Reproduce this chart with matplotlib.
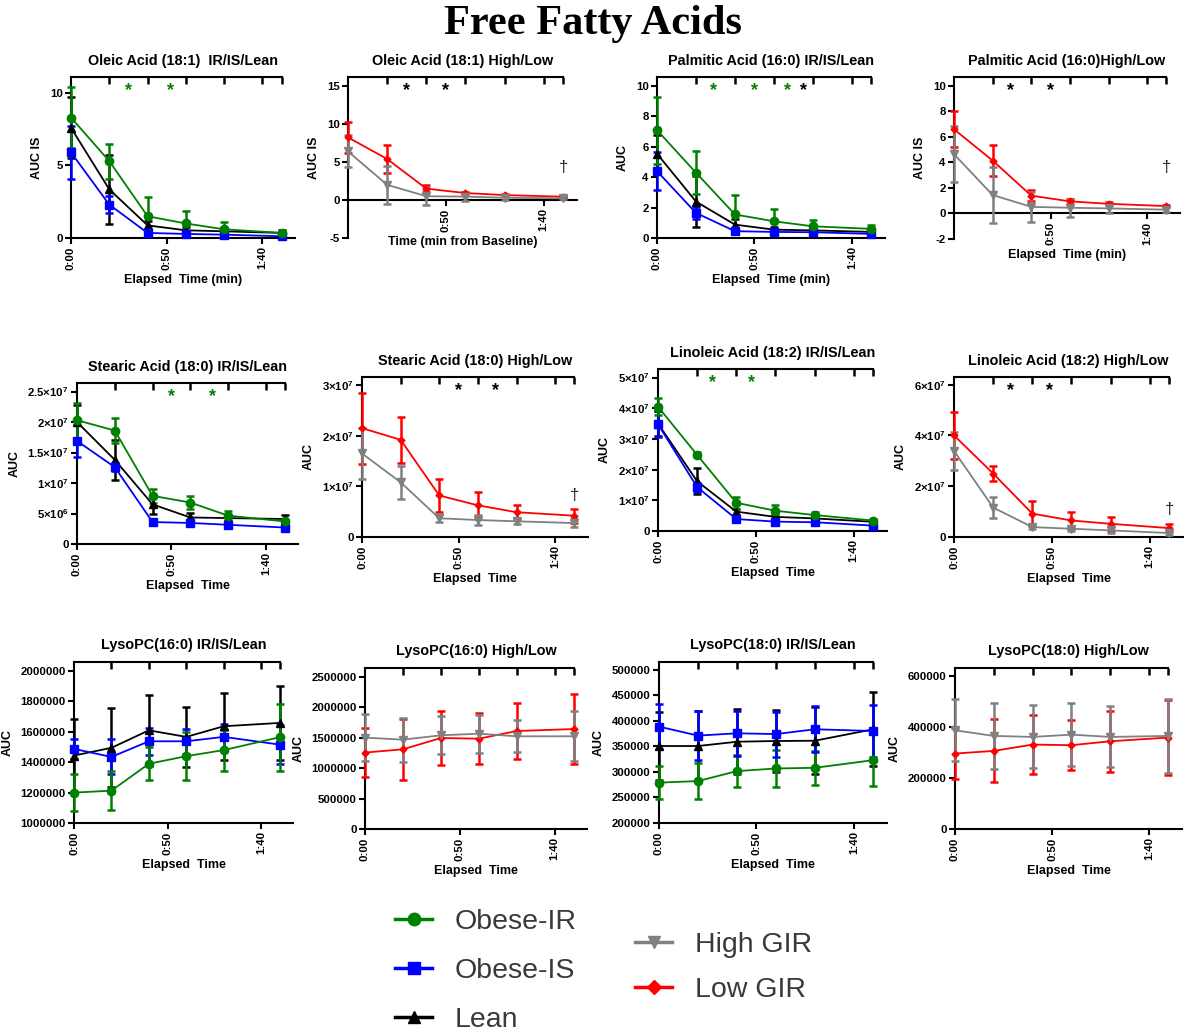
import numpy as np
import matplotlib
matplotlib.use("Agg")
import matplotlib.pyplot as plt
import matplotlib.transforms as mtransforms
from matplotlib.lines import Line2D
from matplotlib.ticker import FuncFormatter

# ─── Fonts ───────────────────────────────────────────────
plt.rcParams['font.family'] = ['Liberation Sans', 'DejaVu Sans']
plt.rcParams['font.weight'] = 'bold'
plt.rcParams['mathtext.fontset'] = 'custom'
plt.rcParams['mathtext.rm'] = 'Liberation Sans:bold'
plt.rcParams['mathtext.bf'] = 'Liberation Sans:bold'
plt.rcParams['axes.linewidth'] = 1.5

W, H = 1185, 1034

# ─── Sampling times (min) and axis ticks ─────────────────
times = [0, 20, 40, 60, 80, 110]
top_ticks = [20, 40, 60, 80, 100, 110]
x_ticks = [0, 50, 100]
x_ticklabels = ['0:00', '0:50', '1:40']

# ─── Oleic acid (18:1) ───────────────────────────────────
oleic_ir = [8.3, 5.3, 1.5, 1.0, 0.6, 0.35]
oleic_ir_err = [2.1, 1.2, 1.3, 0.85, 0.5, 0.15]
oleic_is = [5.9, 2.3, 0.35, 0.28, 0.23, 0.12]
oleic_is_err = [1.8, 0.6, 0.2, 0.15, 0.15, 0.1]
oleic_lean = [7.6, 3.35, 0.87, 0.53, 0.46, 0.35]
oleic_lean_err = [2.1, 2.4, 0.3, 0.2, 0.2, 0.2]
oleic_low = [8.25, 5.4, 1.5, 0.92, 0.65, 0.44]
oleic_low_err = [2.0, 1.8, 0.5, 0.2, 0.15, 0.1]
oleic_high = [6.4, 2.0, 0.5, 0.45, 0.3, 0.22]
oleic_high_err = [2.1, 2.5, 1.2, 0.6, 0.3, 0.15]

# ─── Palmitic acid (16:0) ────────────────────────────────
palm_ir = [7.1, 4.3, 1.55, 1.1, 0.77, 0.6]
palm_ir_err = [2.2, 1.4, 1.25, 0.8, 0.4, 0.27]
palm_is = [4.4, 1.65, 0.45, 0.4, 0.38, 0.27]
palm_is_err = [1.25, 0.38, 0.15, 0.15, 0.15, 0.12]
palm_lean = [5.55, 2.4, 0.88, 0.55, 0.5, 0.4]
palm_lean_err = [1.25, 1.7, 0.35, 0.2, 0.2, 0.2]
palm_low = [6.6, 4.15, 1.4, 0.95, 0.76, 0.58]
palm_low_err = [1.4, 1.25, 0.45, 0.2, 0.12, 0.1]
palm_high = [4.65, 1.45, 0.52, 0.45, 0.4, 0.3]
palm_high_err = [2.2, 2.2, 1.15, 0.7, 0.4, 0.2]

# ─── Stearic acid (18:0) ─────────────────────────────────
stear_ir = [20.3e6, 18.6e6, 7.9e6, 6.8e6, 4.65e6, 3.7e6]
stear_ir_err = [2.9e6, 2.1e6, 1.15e6, 1.05e6, 0.7e6, 0.3e6]
stear_is = [16.9e6, 12.6e6, 3.6e6, 3.45e6, 3.15e6, 2.7e6]
stear_is_err = [2.6e6, 0.7e6, 0.3e6, 0.3e6, 0.3e6, 0.3e6]
stear_lean = [20.0e6, 13.8e6, 6.5e6, 4.35e6, 4.25e6, 4.1e6]
stear_lean_err = [2.8e6, 3.3e6, 1.6e6, 0.7e6, 0.5e6, 0.65e6]
stear_low = [21.5e6, 19.2e6, 8.2e6, 6.25e6, 4.9e6, 4.2e6]
stear_low_err = [7.0e6, 4.5e6, 3.25e6, 2.6e6, 1.5e6, 1.4e6]
stear_high = [16.5e6, 10.8e6, 3.7e6, 3.35e6, 3.1e6, 2.75e6]
stear_high_err = [5.0e6, 3.3e6, 0.8e6, 1.0e6, 0.5e6, 0.85e6]

# ─── Linoleic acid (18:2) ────────────────────────────────
lino_ir = [40.5e6, 24.8e6, 9.2e6, 6.6e6, 5.2e6, 3.4e6]
lino_ir_err = [2.8e6, 0.8e6, 2.0e6, 1.85e6, 0.9e6, 0.4e6]
lino_is = [34.8e6, 14.3e6, 3.9e6, 3.05e6, 2.85e6, 1.75e6]
lino_is_err = [4.2e6, 1.5e6, 0.6e6, 0.5e6, 0.5e6, 0.4e6]
lino_lean = [35.0e6, 16.2e6, 6.3e6, 4.6e6, 4.1e6, 3.0e6]
lino_lean_err = [4.0e6, 4.3e6, 1.0e6, 1.0e6, 0.6e6, 0.5e6]
lino_low = [40.0e6, 25.0e6, 9.2e6, 6.5e6, 5.2e6, 3.5e6]
lino_low_err = [9.4e6, 3.1e6, 4.8e6, 3.5e6, 2.7e6, 1.7e6]
lino_high = [33.9e6, 11.6e6, 3.9e6, 3.25e6, 2.6e6, 1.55e6]
lino_high_err = [7.4e6, 4.1e6, 0.6e6, 1.0e6, 1.2e6, 0.8e6]

# ─── LysoPC(16:0) ────────────────────────────────────────
lpc16_ir = [1200000, 1213000, 1390000, 1440000, 1480000, 1565000]
lpc16_ir_err = [120000, 130000, 110000, 160000, 135000, 220000]
lpc16_is = [1488000, 1435000, 1538000, 1538000, 1567000, 1516000]
lpc16_is_err = [66000, 115000, 90000, 82000, 83000, 127000]
lpc16_lean = [1444000, 1495000, 1610000, 1567000, 1637000, 1659000]
lpc16_lean_err = [240000, 260000, 235000, 200000, 220000, 245000]
lpc16_low = [1253000, 1307000, 1492000, 1481000, 1607000, 1639000]
lpc16_low_err = [395000, 500000, 450000, 420000, 460000, 580000]
lpc16_high = [1498000, 1465000, 1536000, 1563000, 1520000, 1520000]
lpc16_high_err = [380000, 360000, 310000, 310000, 260000, 410000]

# ─── LysoPC(18:0) ────────────────────────────────────────
lpc18_ir = [279000, 282000, 301500, 306700, 308000, 323000]
lpc18_ir_err = [33000, 36000, 32000, 36000, 33000, 51000]
lpc18_is = [388600, 371000, 375500, 374000, 383400, 380000]
lpc18_is_err = [44000, 48000, 44000, 44000, 44600, 51000]
lpc18_lean = [350600, 350600, 359000, 360400, 361000, 383400]
lpc18_lean_err = [66000, 69000, 64000, 61000, 65000, 72000]
lpc18_low = [296700, 307000, 332000, 329400, 345000, 359500]
lpc18_low_err = [102000, 124000, 115000, 98000, 119000, 149000]
lpc18_high = [388000, 366000, 362000, 371000, 362000, 366000]
lpc18_high_err = [122000, 129000, 124000, 125000, 120000, 146000]

# ─── Group styles ────────────────────────────────────────
STYLE = {
    'Obese-IR': dict(color='#008000', marker='o', ms=6.0),
    'Obese-IS': dict(color='#0000ff', marker='s', ms=6.0),
    'Lean':     dict(color='#000000', marker='^', ms=5.5),
    'High GIR': dict(color='#808080', marker='v', ms=6.0),
    'Low GIR':  dict(color='#ff0000', marker='D', ms=3.5),
}


def sci_label(v, pos):
    if v == 0:
        return '0'
    exp = int(np.floor(np.log10(abs(v)) + 1e-9))
    mant = v / 10 ** exp
    return r'$%s{\times}10^{%d}$' % (f'{mant:g}', exp)


def plain_label(v, pos):
    return f'{v:g}'


def int_label(v, pos):
    return f'{int(round(v))}'


fig = plt.figure(figsize=(W / 100, H / 100), dpi=100)
fig.text(0.5, 1 - 24 / H, 'Free Fatty Acids', ha='center', va='center',
         family='Liberation Serif', fontsize=30.5, weight='bold')


def draw_panel(box, title, series, ylim, yticks, ylabel, xlabel, fmt,
               stars=(), dagger=None, zero_axis=False):
    l, r, t, b = box
    ax = fig.add_axes([l / W, 1 - b / H, (r - l) / W, (b - t) / H])
    for name, y, e in series:
        st = STYLE[name]
        ax.errorbar(times, y, yerr=e, color=st['color'], marker=st['marker'],
                    ms=st['ms'], lw=1.3, elinewidth=1.8, capsize=3.2,
                    capthick=1.8, clip_on=False, zorder=3)
    ax.set_xlim(0, 117)
    ax.set_ylim(*ylim)
    ax.set_yticks(yticks)
    ax.yaxis.set_major_formatter(FuncFormatter(fmt))
    ax.spines['top'].set_visible(False)
    ax.spines['right'].set_visible(False)
    if zero_axis:
        ax.spines['bottom'].set_position(('data', 0))
        ax.set_xticks(x_ticks[1:])
        ax.set_xticklabels(x_ticklabels[1:], rotation=90)
    else:
        ax.set_xticks(x_ticks)
        ax.set_xticklabels(x_ticklabels, rotation=90)
    ax.tick_params(length=4, width=1.5, labelsize=8.2, pad=2)
    ax.set_title(title, fontsize=10.4, weight='bold', pad=9)
    ax.set_ylabel(ylabel, fontsize=9, weight='bold', labelpad=5)
    ax.set_xlabel(xlabel, fontsize=9, weight='bold', labelpad=3)

    # time-point ruler along the top edge
    top = ax.twiny()
    top.set_xlim(ax.get_xlim())
    for s in ('left', 'right', 'bottom'):
        top.spines[s].set_visible(False)
    top.spines['top'].set_bounds(0, 110)
    top.set_xticks(top_ticks)
    top.tick_params(axis='x', direction='in', length=5, width=1.8,
                    labeltop=False)

    trans = mtransforms.blended_transform_factory(ax.transData, ax.transAxes)
    for xs, c in stars:
        ax.text(xs, 1 - 22 / (b - t), '*', transform=trans, color=c,
                fontsize=13, ha='center', va='bottom')
    if dagger is not None:
        ax.text(times[-1], dagger, '\u2020', transform=trans, color='#222222',
                fontsize=12, ha='center', va='center', weight='normal')
    return ax


G, K = '#008000', '#000000'

draw_panel((71, 295, 77, 238), 'Oleic Acid (18:1)  IR/IS/Lean',
           [('Lean', oleic_lean, oleic_lean_err),
            ('Obese-IS', oleic_is, oleic_is_err),
            ('Obese-IR', oleic_ir, oleic_ir_err)],
           (0, 11.1), [0, 5, 10], 'AUC IS', 'Elapsed  Time (min)', plain_label,
           stars=[(30, G), (52, G)])
draw_panel((348, 577, 77, 238), 'Oleic Acid (18:1) High/Low',
           [('Low GIR', oleic_low, oleic_low_err),
            ('High GIR', oleic_high, oleic_high_err)],
           (-5, 16.2), [-5, 0, 5, 10, 15], 'AUC IS', 'Time (min from Baseline)',
           plain_label, stars=[(30, K), (50, K)], dagger=0.435, zero_axis=True)
draw_panel((657, 885, 77, 238), 'Palmitic Acid (16:0) IR/IS/Lean',
           [('Lean', palm_lean, palm_lean_err),
            ('Obese-IS', palm_is, palm_is_err),
            ('Obese-IR', palm_ir, palm_ir_err)],
           (0, 10.6), [0, 2, 4, 6, 8, 10], 'AUC', 'Elapsed  Time (min)',
           plain_label, stars=[(29, G), (50, G), (67, G), (75, K)])
draw_panel((954, 1180, 77, 239), 'Palmitic Acid (16:0)High/Low',
           [('Low GIR', palm_low, palm_low_err),
            ('High GIR', palm_high, palm_high_err)],
           (-2, 10.7), [-2, 0, 2, 4, 6, 8, 10], 'AUC IS', 'Elapsed  Time (min)',
           plain_label, stars=[(29, K), (50, K)], dagger=0.44, zero_axis=True)

draw_panel((77, 298, 383, 544), 'Stearic Acid (18:0) IR/IS/Lean',
           [('Lean', stear_lean, stear_lean_err),
            ('Obese-IS', stear_is, stear_is_err),
            ('Obese-IR', stear_ir, stear_ir_err)],
           (0, 2.64e7), [0, 5e6, 1e7, 1.5e7, 2e7, 2.5e7], 'AUC', 'Elapsed  Time',
           sci_label, stars=[(50, G), (72, G)])
draw_panel((362, 588, 377, 537), 'Stearic Acid (18:0) High/Low',
           [('Low GIR', stear_low, stear_low_err),
            ('High GIR', stear_high, stear_high_err)],
           (0, 3.16e7), [0, 1e7, 2e7, 3e7], 'AUC', 'Elapsed  Time',
           sci_label, stars=[(50, K), (69, K)], dagger=0.26)
draw_panel((658, 887, 369, 531), 'Linoleic Acid (18:2) IR/IS/Lean',
           [('Lean', lino_lean, lino_lean_err),
            ('Obese-IS', lino_is, lino_is_err),
            ('Obese-IR', lino_ir, lino_ir_err)],
           (0, 5.28e7), [0, 1e7, 2e7, 3e7, 4e7, 5e7], 'AUC', 'Elapsed  Time',
           sci_label, stars=[(28, G), (48, G)])
draw_panel((954, 1183, 377, 537), 'Linoleic Acid (18:2) High/Low',
           [('Low GIR', lino_low, lino_low_err),
            ('High GIR', lino_high, lino_high_err)],
           (0, 6.3e7), [0, 2e7, 4e7, 6e7], 'AUC', 'Elapsed  Time',
           sci_label, stars=[(29, K), (49, K)], dagger=0.17)

draw_panel((74, 293, 662, 823), 'LysoPC(16:0) IR/IS/Lean',
           [('Lean', lpc16_lean, lpc16_lean_err),
            ('Obese-IS', lpc16_is, lpc16_is_err),
            ('Obese-IR', lpc16_ir, lpc16_ir_err)],
           (1e6, 2.06e6), np.arange(1000000, 2000001, 200000), 'AUC',
           'Elapsed  Time', int_label)
draw_panel((365, 587, 668, 829), 'LysoPC(16:0) High/Low',
           [('Low GIR', lpc16_low, lpc16_low_err),
            ('High GIR', lpc16_high, lpc16_high_err)],
           (0, 2.64e6), np.arange(0, 2500001, 500000), 'AUC',
           'Elapsed  Time', int_label)
draw_panel((659, 887, 662, 823), 'LysoPC(18:0) IR/IS/Lean',
           [('Lean', lpc18_lean, lpc18_lean_err),
            ('Obese-IR', lpc18_ir, lpc18_ir_err),
            ('Obese-IS', lpc18_is, lpc18_is_err)],
           (2e5, 5.15e5), np.arange(200000, 500001, 50000), 'AUC',
           'Elapsed  Time', int_label)
draw_panel((955, 1182, 668, 829), 'LysoPC(18:0) High/Low',
           [('Low GIR', lpc18_low, lpc18_low_err),
            ('High GIR', lpc18_high, lpc18_high_err)],
           (0, 6.33e5), np.arange(0, 600001, 200000), 'AUC',
           'Elapsed  Time', int_label)

# ─── Legends ─────────────────────────────────────────────
def handle(name):
    st = STYLE[name]
    ms = 9 if st['marker'] != 'D' else 7
    return Line2D([], [], color=st['color'], marker=st['marker'], ms=ms, lw=2.5)


leg_kw = dict(frameon=False, prop={'family': 'Liberation Sans', 'size': 20.5,
                                   'weight': 'normal'},
              labelcolor='#3a3a3a', handlelength=1.3, handletextpad=0.8,
              borderpad=0, borderaxespad=0, loc='upper left')
fig.legend([handle(n) for n in ('Obese-IR', 'Obese-IS', 'Lean')],
           ['Obese-IR', 'Obese-IS', 'Lean'], labelspacing=0.8,
           bbox_to_anchor=(395 / W, 1 - 909 / H), **leg_kw)
fig.legend([handle(n) for n in ('High GIR', 'Low GIR')],
           ['High GIR', 'Low GIR'], labelspacing=0.65,
           bbox_to_anchor=(635 / W, 1 - 932 / H), **leg_kw)

fig.savefig('out.png', dpi=100)
